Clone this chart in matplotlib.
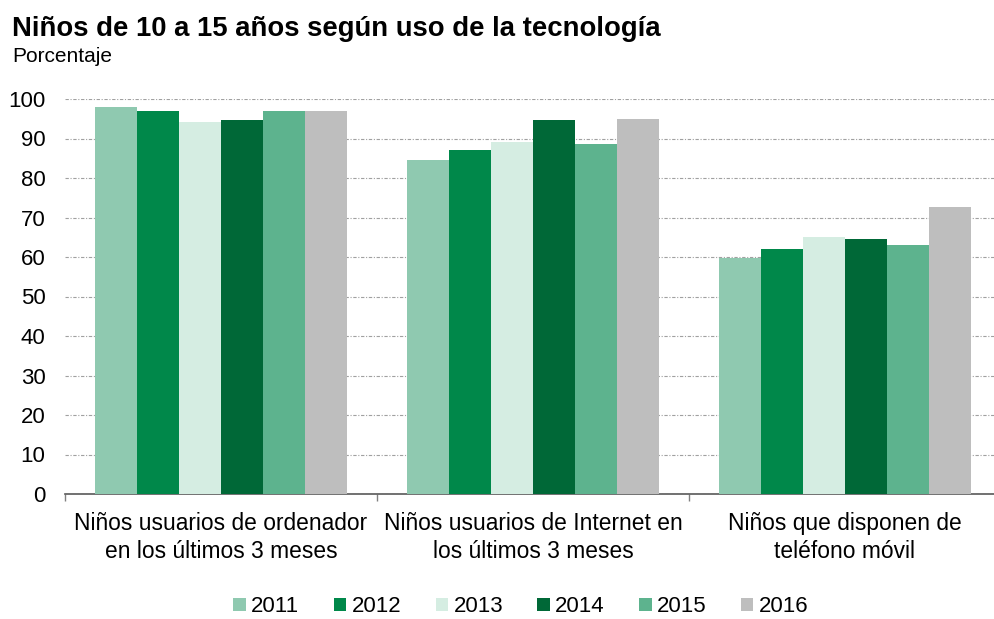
import matplotlib
matplotlib.use("Agg")
import matplotlib.pyplot as plt
import numpy as np

plt.rcParams['font.family'] = ['Liberation Sans', 'DejaVu Sans']

categories = ["Niños usuarios de ordenador\nen los últimos 3 meses",
              "Niños usuarios de Internet en\nlos últimos 3 meses",
              "Niños que disponen de\nteléfono móvil"]
years = ["2011", "2012", "2013", "2014", "2015", "2016"]
v2011 = [98.0, 84.6, 59.8]
v2012 = [96.9, 87.2, 61.9]
v2013 = [94.1, 89.2, 65.0]
v2014 = [94.7, 94.6, 64.6]
v2015 = [96.9, 88.5, 63.0]
v2016 = [97.0, 95.0, 72.6]
series = [v2011, v2012, v2013, v2014, v2015, v2016]
colors = ["#8FC9B0", "#00884A", "#D5EDE2", "#006837", "#5DB38E", "#BEBEBE"]

fig = plt.figure(figsize=(9.95, 6.19), dpi=100)
ax = fig.add_axes([65/995, 1-494/619, 936/995, (494-99)/619])

n = len(years)
bw = 0.1345
x = np.arange(len(categories))
for i, (yr, vals, c) in enumerate(zip(years, series, colors)):
    ax.bar(x + (i - (n-1)/2)*bw, vals, bw, color=c, label=yr, zorder=3)

ax.set_xlim(-0.5, len(categories)-0.5)
ax.set_ylim(0, 100)
ax.set_yticks(np.arange(0, 101, 10))
ax.yaxis.grid(True, linestyle=(0, (3, 1.5, 1, 1.5)), color="#a0a0a0", linewidth=0.8, zorder=0)
ax.set_axisbelow(True)
for s in ["left", "top", "right"]:
    ax.spines[s].set_visible(False)
ax.spines["bottom"].set_color("#595959")
ax.spines["bottom"].set_linewidth(1.2)
ax.tick_params(axis="y", length=0, pad=14, labelsize=16)
ax.set_xticks(x)
ax.set_xticklabels(categories, fontsize=16.4, linespacing=1.25)
ax.tick_params(axis="x", length=0, pad=13)
ax.set_xticks(np.arange(-0.5, len(categories), 1), minor=True)
ax.tick_params(axis="x", which="minor", length=5, color="#808080", width=1)

fig.text(12/995, 1-29/619, "Niños de 10 a 15 años según uso de la tecnología",
         fontsize=19.8, fontweight="bold", va="center", ha="left")
fig.text(12/995, 1-56/619, "Porcentaje", fontsize=15, va="center", ha="left")

leg = fig.legend(loc="center", bbox_to_anchor=(521/995, 1-607/619), ncol=6,
                 frameon=False, fontsize=16, handlelength=0.55, handleheight=0.55,
                 handletextpad=0.25, columnspacing=1.55)

fig.savefig("out.png", dpi=100)
